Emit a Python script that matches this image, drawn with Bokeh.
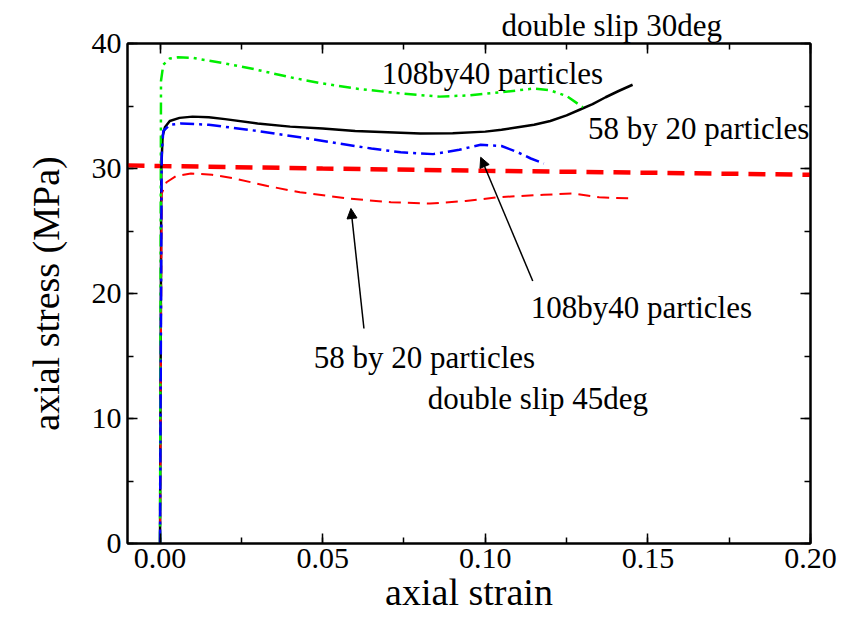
from bokeh.plotting import figure
from bokeh.models import (Range1d, LinearAxis, SingleIntervalTicker, PrintfTickFormatter,
                          Label, Arrow, NormalHead, Title)
from bokeh.embed import file_html
from bokeh.resources import INLINE

# ---- data ----
# thick red dashed line (double slip 45deg reference level)
ref45_x = [-0.01, 0.0, 0.05, 0.10, 0.15, 0.20]
ref45_y = [30.25, 30.2, 30.0, 29.82, 29.66, 29.5]

# black solid: 58 by 20 particles, double slip 30deg
black_x = [0.0, 0.0004, 0.0008, 0.0015, 0.003, 0.006, 0.010, 0.015, 0.020, 0.030, 0.040,
           0.050, 0.060, 0.070, 0.080, 0.090, 0.100, 0.105, 0.110, 0.115, 0.120, 0.125,
           0.129, 0.133, 0.137, 0.141, 0.1453]
black_y = [0.0, 30.0, 32.6, 33.3, 33.8, 34.05, 34.15, 34.1, 33.95, 33.6, 33.35,
           33.2, 33.0, 32.9, 32.8, 32.82, 32.95, 33.1, 33.3, 33.5, 33.8, 34.25,
           34.7, 35.15, 35.7, 36.2, 36.7]

# green dash-dot-dot: 108by40 particles, double slip 30deg
green_x = [0.0, 0.0003, 0.001, 0.003, 0.0055, 0.010, 0.020, 0.028, 0.040, 0.050, 0.060,
           0.074, 0.086, 0.095, 0.105, 0.115, 0.120, 0.125, 0.130]
green_y = [0.0, 37.0, 38.3, 38.8, 38.9, 38.85, 38.4, 38.0, 37.3, 36.8, 36.4,
           36.0, 35.75, 35.85, 36.1, 36.4, 36.25, 35.8, 34.9]

# blue dash-dot: 108by40 particles, double slip 45deg
blue_x = [0.0, 0.0005, 0.001, 0.003, 0.0065, 0.015, 0.030, 0.043, 0.055, 0.065, 0.074,
          0.084, 0.092, 0.0986, 0.105, 0.110, 0.114, 0.118]
blue_y = [0.0, 31.0, 33.0, 33.5, 33.6, 33.5, 33.0, 32.5, 32.0, 31.6, 31.3,
          31.15, 31.5, 31.9, 31.8, 31.3, 30.8, 30.4]

# thin red dashed: 58 by 20 particles, double slip 45deg
red_x = [0.0, 0.0005, 0.002, 0.005, 0.0095, 0.016, 0.023, 0.033, 0.043, 0.058, 0.071,
         0.083, 0.094, 0.104, 0.118, 0.127, 0.135, 0.145]
red_y = [0.0, 28.0, 28.9, 29.4, 29.6, 29.5, 29.2, 28.6, 28.1, 27.6, 27.3,
         27.2, 27.4, 27.7, 27.9, 28.0, 27.7, 27.6]

# annotations
top_text = "double slip 30deg"
label_text = ["108by40 particles", "58 by 20 particles",
              "108by40 particles", "58 by 20 particles", "double slip 45deg"]
label_x = [0.0682, 0.1316, 0.1140, 0.0473, 0.0823]
label_y = [37.6, 33.2, 18.88, 14.88, 11.6]

arrow_start_x = [0.1146, 0.0627]
arrow_start_y = [21.0, 17.2]
arrow_end_x = [0.0986, 0.0587]
arrow_end_y = [30.9, 26.8]

x_ticks_interval = 0.05
y_ticks_interval = 10

FONT = "Liberation Serif"

p = figure(width=853, height=623, output_backend="svg", toolbar_location=None,
           x_range=Range1d(-0.01, 0.20), y_range=Range1d(0, 40),
           min_border_left=127, min_border_right=43, min_border_top=43, min_border_bottom=80,
           x_axis_label="axial strain", y_axis_label="axial stress (MPa)")
p.grid.visible = False
p.outline_line_color = "black"
p.outline_line_width = 2
p.background_fill_color = "white"
p.border_fill_color = "white"

xt = SingleIntervalTicker(interval=x_ticks_interval, num_minor_ticks=2)
yt = SingleIntervalTicker(interval=y_ticks_interval, num_minor_ticks=2)
p.xaxis.ticker = xt
p.yaxis.ticker = yt
p.xaxis.formatter = PrintfTickFormatter(format="%.2f")

for ax in (p.xaxis[0], p.yaxis[0]):
    ax.axis_line_width = 2
    ax.major_tick_in = 10
    ax.major_tick_out = 0
    ax.minor_tick_in = 6
    ax.minor_tick_out = 0
    ax.major_tick_line_width = 1.5
    ax.minor_tick_line_width = 1.5
    ax.major_label_text_font = FONT
    ax.major_label_text_font_size = "30px"
    ax.major_label_text_color = "black"
    ax.axis_label_text_font = FONT
    ax.axis_label_text_font_size = "38px"
    ax.axis_label_text_font_style = "normal"
    ax.axis_label_text_color = "black"

p.xaxis.major_label_standoff = 5
p.xaxis.axis_label_standoff = 0
p.yaxis.major_label_standoff = 6
p.yaxis.axis_label_standoff = 22

# mirrored tick marks on top and right (no labels drawn)
top = LinearAxis(ticker=xt, major_label_text_font_size="4px", major_label_text_color=None,
                 major_label_standoff=0,
                 axis_line_width=2, major_tick_in=10, major_tick_out=0, minor_tick_in=6,
                 minor_tick_out=0, major_tick_line_width=1.5, minor_tick_line_width=1.5)
right = LinearAxis(ticker=yt, major_label_text_font_size="4px", major_label_text_color=None,
                   major_label_standoff=0,
                   axis_line_width=2, major_tick_in=10, major_tick_out=0, minor_tick_in=6,
                   minor_tick_out=0, major_tick_line_width=1.5, minor_tick_line_width=1.5)
p.add_layout(top, "above")
p.add_layout(right, "right")

# text above the frame
p.add_layout(Title(text=top_text, align="left", offset=374, text_font=FONT,
                   text_font_size="31px", text_font_style="normal", text_color="black",
                   standoff=2), "above")

p.line(ref45_x, ref45_y, line_color="#ff0000", line_width=4.5, line_dash="17 10")
p.line(black_x, black_y, line_color="black", line_width=2.5)
p.line(red_x, red_y, line_color="#ff0000", line_width=2, line_dash="12 7")
p.line(green_x, green_y, line_color="#00ee00", line_width=2.5, line_dash="12 5 3 5 3 5")
p.line(blue_x, blue_y, line_color="#0000ff", line_width=2.5, line_dash="14 5 3 5")

for t, lx, ly in zip(label_text, label_x, label_y):
    p.add_layout(Label(x=lx, y=ly, text=t, text_font=FONT, text_font_size="31px",
                       text_color="black", text_align="left", text_baseline="alphabetic"))

for sx, sy, ex, ey in zip(arrow_start_x, arrow_start_y, arrow_end_x, arrow_end_y):
    p.add_layout(Arrow(x_start=sx, y_start=sy, x_end=ex, y_end=ey, line_width=1.5,
                       line_color="black",
                       end=NormalHead(size=10, fill_color="black", line_color="black")))

open("out.html", "w").write(file_html(p, INLINE))
